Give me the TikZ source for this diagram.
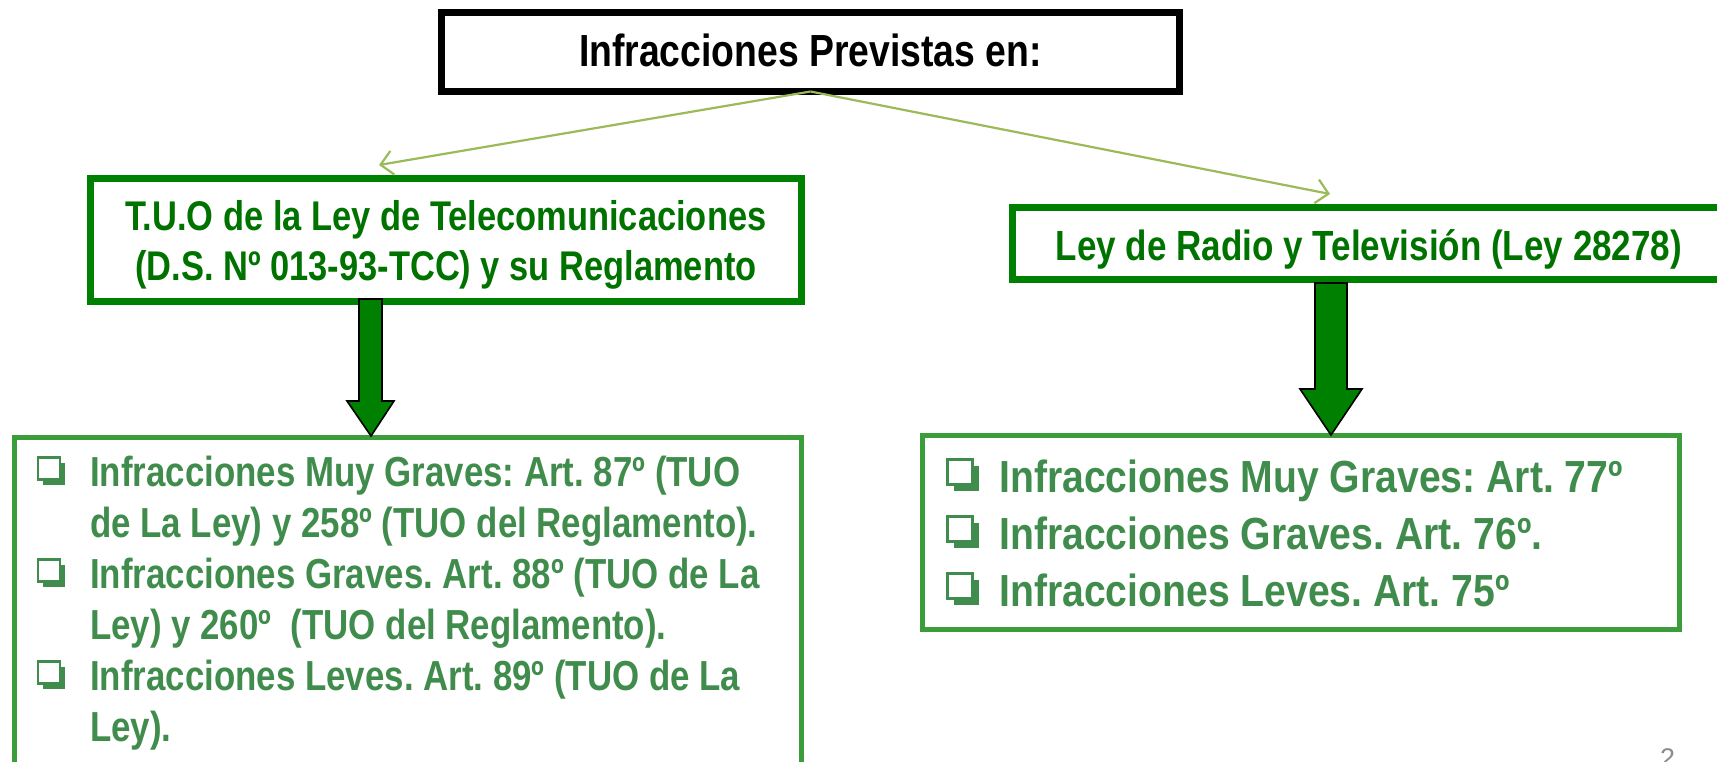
\documentclass[tikz,border=0pt]{standalone}
\usepackage{fontspec}
\setmainfont{Liberation Sans}
\newfontfamily\nar[FakeStretch=0.83]{Liberation Sans}
\newfontfamily\narR[FakeStretch=0.87]{Liberation Sans}
\usetikzlibrary{arrows.meta,shadows}
\definecolor{midgreen}{RGB}{0,128,0}
\definecolor{midtext}{RGB}{0,114,0}
\definecolor{botgreen}{RGB}{58,157,58}
\definecolor{bottext}{RGB}{64,140,76}
\definecolor{linegreen}{RGB}{155,187,89}
\definecolor{pagegray}{RGB}{140,140,140}
\frenchspacing
\begin{document}
\begin{tikzpicture}[x=1pt,y=-1pt,
  box/.style={draw, inner sep=0pt, outer sep=0pt},
  titlebox/.style={box, draw=black, line width=7pt},
  midbox/.style={box, draw=midgreen, line width=7pt},
  botbox/.style={box, draw=botgreen, line width=5pt},
  ttl/.style={inner sep=0pt, font=\nar\bfseries\fontsize{45}{54}\selectfont, text=black, anchor=base},
  midtxt/.style={inner sep=0pt, font=\nar\bfseries\fontsize{41.5}{50}\selectfont, text=midtext, anchor=base},
  lefttxt/.style={inner sep=0pt, font=\nar\bfseries\fontsize{42}{51}\selectfont, text=bottext, anchor=base west},
  righttxt/.style={inner sep=0pt, font=\narR\bfseries\fontsize{45}{57}\selectfont, text=bottext, anchor=base west},
  link/.style={draw=linegreen, line width=2.2pt, -{Straight Barb[length=12pt,width=24pt]}},
  blockarrow/.style={fill=midgreen, draw=black, line width=1.6pt, line join=miter},
  bulletL/.style={draw=bottext, line width=2.8pt, fill=white, minimum size=22pt, inner sep=0pt,
    drop shadow={shadow xshift=5pt, shadow yshift=-5pt, fill=bottext, opacity=1}},
  bulletR/.style={draw=bottext, line width=3pt, fill=white, minimum size=25pt, inner sep=0pt,
    drop shadow={shadow xshift=6pt, shadow yshift=-6pt, fill=bottext, opacity=1}},
]
\useasboundingbox (0,0) rectangle (1717,761);

% boxes
\node[titlebox, minimum width=738pt, minimum height=79pt] (top) at (810.5,52) {};
\node[ttl] (toptxt) at (810.5,66) {Infracciones Previstas en:};

\node[midbox, minimum width=711pt, minimum height=123pt] (tuo) at (446,240) {};
\node[midtxt] (tuo1) at (446,230) {T.U.O de la Ley de Telecomunicaciones};
\node[midtxt] (tuo2) at (446,280) {(D.S. Nº 013-93-TCC) y su Reglamento};

\node[midbox, minimum width=712.5pt, minimum height=72pt] (ley) at (1368.75,243.5) {};
\node[midtxt, font=\nar\bfseries\fontsize{42.2}{50}\selectfont] (leytxt) at (1369,260) {Ley de Radio y Televisión (Ley 28278)};

\node[botbox, minimum width=786.5pt, minimum height=345pt] (lbox) at (407.75,610) {};
\node[botbox, minimum width=757pt, minimum height=194pt] (rbox) at (1301,532.5) {};

% thin connectors
\coordinate (la) at (379,165);
\coordinate (ra) at (1330,194);
\draw[link] (top.south) -- (la);
\draw[link] (top.south) -- (ra);

% block arrows
\draw[blockarrow] (359,299) -- (382,299) -- (382,401) -- (394,401) -- (371,436) -- (347,401) -- (359,401) -- cycle;
\draw[blockarrow] (1315,283) -- (1347,283) -- (1347,389) -- (1362,389) -- (1331,435) -- (1300,389) -- (1315,389) -- cycle;

% left list
\node[bulletL] (lb1) at (49,468.5) {};
\node[lefttxt] (l1) at (90,486) {Infracciones Muy Graves: Art. 87º (TUO};
\node[lefttxt] (l2) at (90,537) {de La Ley) y 258º (TUO del Reglamento).};
\node[bulletL] (lb2) at (49,570.5) {};
\node[lefttxt] (l3) at (90,588) {Infracciones Graves. Art. 88º (TUO de La};
\node[lefttxt] (l4) at (90,639) {Ley) y 260º\ \ (TUO del Reglamento).};
\node[bulletL] (lb3) at (49,672.5) {};
\node[lefttxt] (l5) at (90,690) {Infracciones Leves. Art. 89º (TUO de La};
\node[lefttxt] (l6) at (90,741) {Ley).};

% right list
\node[bulletR] (rb1) at (960,472) {};
\node[righttxt] (r1) at (999,492) {Infracciones Muy Graves: Art. 77º};
\node[bulletR] (rb2) at (960,529) {};
\node[righttxt] (r2) at (999,549) {Infracciones Graves. Art. 76º.};
\node[bulletR] (rb3) at (960,586) {};
\node[righttxt] (r3) at (999,606) {Infracciones Leves. Art. 75º};

% page number
\node[inner sep=0pt, anchor=base, text=pagegray, font=\fontsize{27}{30}\selectfont] (pg) at (1667.5,767) {2};
\end{tikzpicture}
\end{document}
